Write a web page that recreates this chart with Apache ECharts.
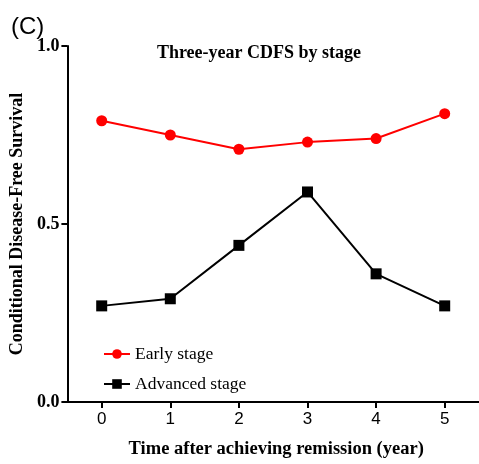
<!DOCTYPE html>
<html>
<head>
<meta charset="utf-8">
<script src="https://cdn.jsdelivr.net/npm/echarts@6/dist/echarts.min.js"></script>
<style>
  html, body { margin: 0; padding: 0; background: #fff; }
  #chart { width: 479px; height: 464px; }
</style>
</head>
<body>
<div id="chart"></div>
<script>
// years after remission
var years = [0, 1, 2, 3, 4, 5];
var earlyStage = [0.79, 0.75, 0.71, 0.73, 0.74, 0.81];
var advancedStage = [0.27, 0.29, 0.44, 0.59, 0.36, 0.27];
var yTicks = [0, 0.5, 1.0];

var serif = "'Liberation Serif', 'Times New Roman', serif";
var sans = "'Liberation Sans', Arial, sans-serif";

function pairs(vals) {
  return years.map(function (x, i) { return [x, vals[i]]; });
}

var myChart = echarts.init(document.getElementById("chart"));
myChart.setOption({
  animation: false,
  title: [
    {
      text: "(C)",
      left: 6,
      top: 10,
      textStyle: { fontFamily: sans, fontSize: 24, fontWeight: "normal", color: "#000" }
    },
    {
      text: "Three-year CDFS by stage",
      left: 254,
      textAlign: "center",
      top: 39,
      textStyle: { fontFamily: serif, fontSize: 18, fontWeight: "bold", color: "#000" }
    }
  ],
  legend: {
    orient: "vertical",
    left: 98,
    top: 340,
    itemWidth: 26,
    itemHeight: 12,
    itemGap: 12,
    textStyle: { fontFamily: serif, fontSize: 17.5, color: "#000" },
    data: ["Early stage", "Advanced stage"]
  },
  grid: {
    left: 66,
    right: 0,
    top: 46,
    bottom: 54,
    containLabel: false
  },
  xAxis: {
    type: "value",
    min: -0.5,
    max: 5.5,
    interval: 1,
    name: "Time after achieving remission (year)",
    nameLocation: "middle",
    nameGap: 38,
    nameTextStyle: { fontFamily: serif, fontSize: 18.5, fontWeight: "bold", color: "#000", padding: [0, 0, 0, 6] },
    axisLine: { onZero: false, lineStyle: { color: "#000", width: 2 } },
    axisTick: {
      show: true, length: 6, lineStyle: { color: "#000", width: 2 },
      customValues: years
    },
    axisLabel: {
      fontFamily: sans, fontSize: 17, color: "#000", margin: 9,
      customValues: years
    },
    splitLine: { show: false }
  },
  yAxis: {
    type: "value",
    min: 0,
    max: 1,
    interval: 0.5,
    name: "Conditional Disease-Free Survival",
    nameLocation: "middle",
    nameGap: 40,
    nameTextStyle: { fontFamily: serif, fontSize: 18, fontWeight: "bold", color: "#000" },
    axisLine: { show: true, onZero: false, lineStyle: { color: "#000", width: 2 } },
    axisTick: { show: true, length: 6, lineStyle: { color: "#000", width: 2 } },
    axisLabel: {
      fontFamily: serif, fontSize: 18, fontWeight: "bold", color: "#000", margin: 8,
      formatter: function (v) { return yTicks.indexOf(v) >= 0 ? v.toFixed(1) : ""; }
    },
    splitLine: { show: false }
  },
  series: [
    {
      name: "Early stage",
      type: "line",
      data: pairs(earlyStage),
      symbol: "circle",
      symbolSize: 11,
      itemStyle: { color: "#ff0000" },
      lineStyle: { color: "#ff0000", width: 2 }
    },
    {
      name: "Advanced stage",
      type: "line",
      data: pairs(advancedStage),
      symbol: "rect",
      symbolSize: 11,
      itemStyle: { color: "#000" },
      lineStyle: { color: "#000", width: 2 }
    }
  ]
});
</script>
</body>
</html>
